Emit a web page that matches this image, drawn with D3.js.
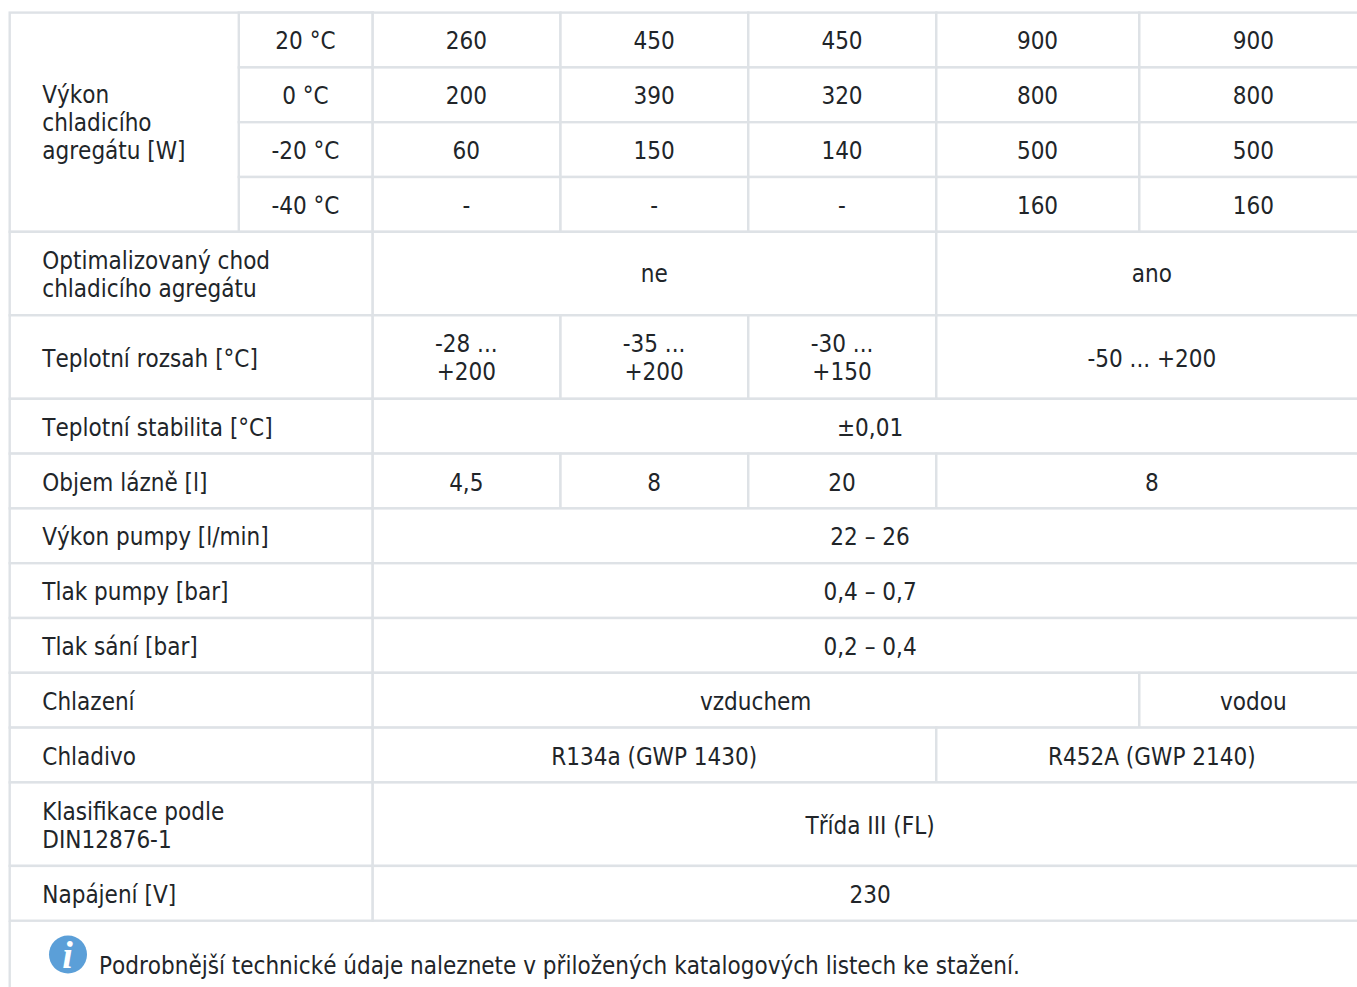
<!DOCTYPE html>
<html><head><meta charset="utf-8">
<script src="https://cdn.jsdelivr.net/npm/d3@7/dist/d3.min.js"></script>
<style>html,body{margin:0;padding:0;background:#fff;overflow:hidden}svg{display:block}text{font-stretch:condensed;font-kerning:none}</style>
</head><body><svg id="c" width="1357" height="987"></svg>
<script>
const powerRows = ["20 °C","0 °C","-20 °C","-40 °C"];
const power260 = ["260","200","60","-"];
const power450a = ["450","390","150","-"];
const power450b = ["450","320","140","-"];
const power900a = ["900","800","500","160"];
const power900b = ["900","800","500","160"];
const labels = [
 ["Optimalizovaný chod","chladicího agregátu"],["Teplotní rozsah [°C]"],["Teplotní stabilita [°C]"],
 ["Objem lázně [l]"],["Výkon pumpy [l/min]"],["Tlak pumpy [bar]"],["Tlak sání [bar]"],
 ["Chlazení"],["Chladivo"],["Klasifikace podle","DIN12876-1"],["Napájení [V]"]];
const rowLineCounts = [1,1,1,1,2,2,1,1,1,1,1,1,1,2,1];
const note = "Podrobnější technické údaje naleznete v přiložených katalogových listech ke stažení.";

const colEdges = [9.7,238.8,372.7,560.5,748.3,936.3,1139.3,1368];
const rowEdges = [12.6];
rowLineCounts.forEach(n=>rowEdges.push(rowEdges[rowEdges.length-1]+(n===2?83.5:54.8)));
// sub-pixel baseline rounding of the original table layout
const rowNudge = [0,0,0,0,-1,1,1,1,0,0,0,1,1,1,1];

const cells = [];
cells.push({r0:0,r1:4,c0:0,c1:2,lines:["Výkon","chladicího","agregátu [W]"],left:true});
[powerRows,power260,power450a,power450b,power900a,power900b].forEach((col,ci)=>{
  col.forEach((v,ri)=>cells.push({r0:ri,r1:ri+1,c0:ci+1,c1:ci+2,lines:[v]}));
});
const span=(r,c0,c1,lines)=>cells.push({r0:r,r1:r+1,c0,c1,lines});
labels.forEach((l,i)=>cells.push({r0:i+4,r1:i+5,c0:0,c1:2,lines:l,left:true}));
span(4,2,5,["ne"]);span(4,5,7,["ano"]);
span(5,2,3,["-28 ...","+200"]);span(5,3,4,["-35 ...","+200"]);span(5,4,5,["-30 ...","+150"]);span(5,5,7,["-50 ... +200"]);
span(6,2,7,["±0,01"]);
span(7,2,3,["4,5"]);span(7,3,4,["8"]);span(7,4,5,["20"]);span(7,5,7,["8"]);
span(8,2,7,["22 – 26"]);span(9,2,7,["0,4 – 0,7"]);span(10,2,7,["0,2 – 0,4"]);
span(11,2,6,["vzduchem"]);span(11,6,7,["vodou"]);
span(12,2,5,["R134a (GWP 1430)"]);span(12,5,7,["R452A (GWP 2140)"]);
span(13,2,7,["Třída III (FL)"]);span(14,2,7,["230"]);

const svg=d3.select("#c");
const x=i=>colEdges[i], y=i=>rowEdges[i];
const font="'DejaVu Sans Condensed','DejaVu Sans',sans-serif", border="#dee2e6", ink="#212529";
svg.append("g").selectAll("rect").data(cells).join("rect")
 .attr("x",d=>x(d.c0)).attr("y",d=>y(d.r0)).attr("width",d=>x(d.c1)-x(d.c0)).attr("height",d=>y(d.r1)-y(d.r0))
 .attr("fill","#fff").attr("stroke",border).attr("stroke-width",2.4);
const t=svg.append("g").attr("font-family",font).attr("font-size",24).attr("fill",ink);
cells.forEach(d=>{
  const cy=(y(d.r0)+y(d.r1))/2, n=d.lines.length;
  const nudge=(n===2&&d.r0<6)?0:rowNudge[d.r0];
  d.lines.forEach((s,i)=>{
    t.append("text").attr("x",d.left?x(d.c0)+32.6:(x(d.c0)+x(d.c1))/2-0.3)
     .attr("y",Math.round(cy+(i-(n-1)/2)*28+9.1)+nudge).attr("text-anchor",d.left?"start":"middle").text(s);
  });
});
svg.append("line").attr("x1",x(0)).attr("x2",x(0)).attr("y1",y(15)).attr("y2",987).attr("stroke",border).attr("stroke-width",2.4);
svg.append("circle").attr("cx",68).attr("cy",954.5).attr("r",19).attr("fill","#5b9fd8");
svg.append("text").attr("x",67.5).attr("y",968).attr("text-anchor","middle").attr("font-family","'Liberation Serif',serif")
 .attr("font-style","italic").attr("font-weight","bold").attr("font-size",38).attr("fill","#fff").text("i");
svg.append("text").attr("x",99).attr("y",974.4).attr("font-family",font).attr("font-size",24).attr("fill",ink).text(note);
</script></body></html>
